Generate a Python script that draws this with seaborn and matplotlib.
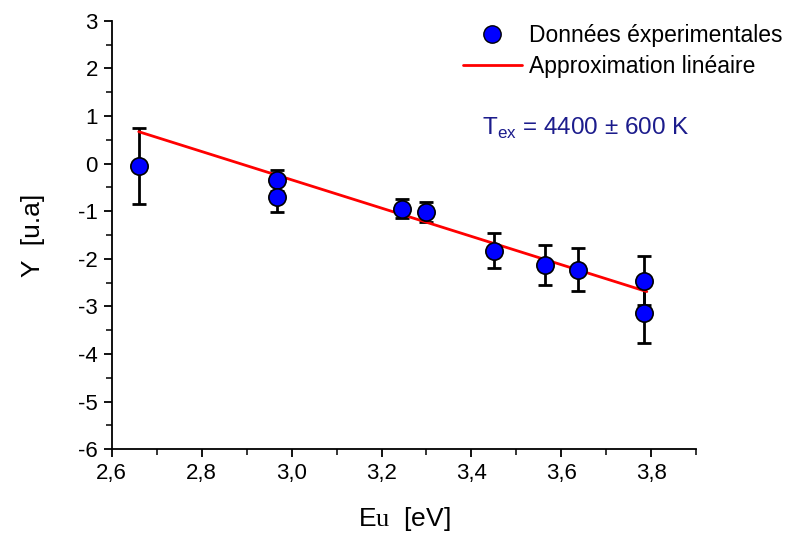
import matplotlib
import numpy as np
import pandas as pd
import seaborn as sns
from matplotlib import pyplot as plt
from matplotlib.lines import Line2D
from matplotlib.ticker import MultipleLocator, FuncFormatter

# values
energy = [2.66, 2.967, 2.967, 3.246, 3.30, 3.45, 3.564, 3.638, 3.783, 3.783]
y_values = [-0.05, -0.35, -0.70, -0.95, -1.01, -1.83, -2.13, -2.23, -2.46, -3.13]
y_errors = [0.80, 0.22, 0.32, 0.20, 0.21, 0.37, 0.42, 0.45, 0.52, 0.63]
fit_energy = [2.66, 3.79]
fit_y = [0.67, -2.69]
x_ticks = [2.6, 2.8, 3.0, 3.2, 3.4, 3.6, 3.8]
y_ticks = [3, 2, 1, 0, -1, -2, -3, -4, -5, -6]


def comma_format(value, pos):
    return f"{value:.1f}".replace(".", ",")


def main():
    sns.set_style("ticks")
    plt.rcParams["font.family"] = ["Liberation Sans", "DejaVu Sans"]
    plt.rcParams["mathtext.fontset"] = "custom"
    plt.rcParams["mathtext.rm"] = "Liberation Serif"
    plt.rcParams["mathtext.sf"] = "Liberation Sans"
    plt.rcParams["axes.unicode_minus"] = False
    plt.rcParams["text.color"] = "black"
    plt.rcParams["axes.labelcolor"] = "black"

    df = pd.DataFrame({"E": energy, "Y": y_values, "err": y_errors})
    fit_df = pd.DataFrame({"E": fit_energy, "Y": fit_y})

    fig = plt.figure(figsize=(8.04, 5.34), dpi=100)
    ax = fig.add_axes([0.139, 0.159, 0.727, 0.802])

    ax.errorbar(df["E"], df["Y"], yerr=df["err"], fmt="none", ecolor="black",
                elinewidth=2, capsize=4.8, capthick=2, zorder=2)
    sns.lineplot(data=fit_df, x="E", y="Y", color="red", linewidth=2, ax=ax, zorder=3)
    sns.scatterplot(data=df, x="E", y="Y", s=155, color="#0000ff", edgecolor="black",
                    linewidth=1.2, ax=ax, zorder=4)

    ax.set_xlim(2.6, 3.9)
    ax.set_ylim(-6, 3)
    ax.set_xticks(x_ticks)
    ax.set_yticks(y_ticks)
    ax.xaxis.set_minor_locator(MultipleLocator(0.1))
    ax.yaxis.set_minor_locator(MultipleLocator(0.5))
    ax.xaxis.set_major_formatter(FuncFormatter(comma_format))
    ax.tick_params(which="major", length=6, width=1.3, labelsize=16, colors="black", pad=4)
    ax.tick_params(which="minor", length=4, width=1.3)
    for side in ["top", "right"]:
        ax.spines[side].set_visible(False)
    for side in ["left", "bottom"]:
        ax.spines[side].set_linewidth(1.3)
        ax.spines[side].set_color("black")

    ax.set_xlabel(r"E$\mathrm{u}$  [eV]", fontsize=19, labelpad=15)
    ax.set_ylabel("Y  [u.a]", fontsize=19, labelpad=24)

    handles = [
        Line2D([], [], marker="o", linestyle="none", markersize=12.5,
               markerfacecolor="#0000ff", markeredgecolor="black"),
        Line2D([], [], color="red", linewidth=2),
    ]
    fig.legend(handles, ["Données éxperimentales", "Approximation linéaire"],
               loc="upper left", bbox_to_anchor=(0.561, 0.976), frameon=False,
               fontsize=16.5, handlelength=2.6, handletextpad=0.3, labelspacing=0.35,
               borderpad=0)

    fig.text(0.60, 0.747, r"T$_{\mathsf{ex}}$ = 4400 ± 600 K", fontsize=17.5,
             color="#1c1c8c")

    fig.savefig("out.png", dpi=100)


if __name__ == "__main__":
    main()
